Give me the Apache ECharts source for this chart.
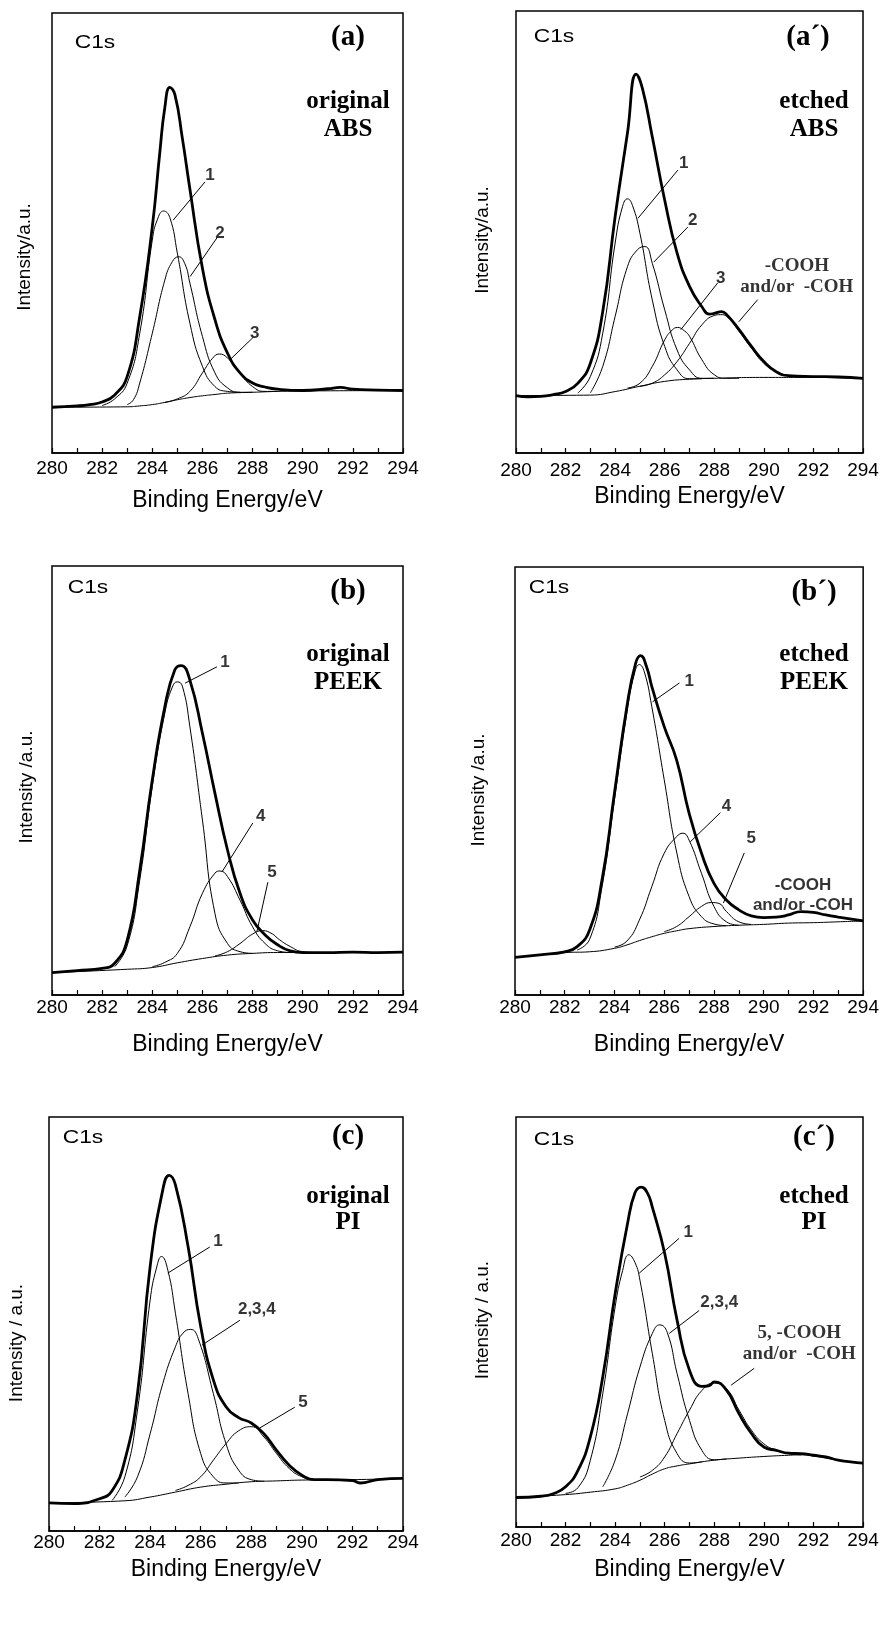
<!DOCTYPE html>
<html>
<head>
<meta charset="utf-8">
<title>C1s XPS spectra - ABS / PEEK / PI</title>
<script src="https://cdn.jsdelivr.net/npm/echarts@6/dist/echarts.min.js"></script>
<style>
    html, body { margin: 0; padding: 0; background: #fff; }
    #main { width: 882px; height: 1628px; }
</style>
</head>
<body>
<div id="main"></div>
<script>
    // ---- data, [binding energy eV, intensity (0-100 of plot height)] ----
    // (a) original ABS
    const aEnvelope = [[280,10.4],[281,10.7],[281.5,11.0],[282,11.6],[282.5,13.2],[283,17.4],[283.5,31.0],[284,51.4],[284.3,68.3],[284.5,78.5],[284.7,83.1],[284.9,81.5],[285.2,71.5],[285.5,60.0],[286,42.0],[286.5,30.3],[287,22.7],[287.5,18.2],[288,15.9],[288.5,15.0],[289,14.5],[290,14.2],[291,14.6],[291.5,14.9],[292,14.5],[293,14.3],[294,14.2]];
    const aBackground = [[280,10.4],[283,10.5],[283.5,10.7],[284,11.0],[284.5,11.5],[285,12.1],[285.5,12.6],[286,13.0],[286.5,13.3],[287,13.6],[288,13.8],[289,14.0],[290,14.1],[294,14.2]];
    const aPeak1 = [[282,10.8],[282.5,12.3],[283,15.9],[283.5,27.2],[284,48.4],[284.2,53.0],[284.45,55.0],[284.7,53.5],[285,45.4],[285.5,29.5],[286,19.7],[286.5,15.1],[287,14.0],[287.5,13.8]];
    const aPeak2 = [[283,11.0],[283.25,12.1],[283.5,15.9],[284,27.2],[284.5,39.3],[284.8,43.5],[285.05,44.6],[285.3,43.0],[285.5,38.6],[286,26.5],[286.5,18.2],[287,14.8],[287.5,13.8],[288,13.8]];
    const aPeak3 = [[284.5,11.5],[285,12.3],[285.5,14.0],[286,18.2],[286.4,21.5],[286.67,22.5],[287,21.6],[287.5,18.2],[288,15.1],[288.5,14.0],[289,14.0]];
    const aNotes = [['1',286.30,63.2],['2',286.70,50.0],['3',288.09,27.3]];
    const aLeaders = [[[284.83,52.9],[286.10,61.6]],[[285.51,40.1],[286.58,48.9]],[[287.10,21.2],[288.01,26.2]]];

    // (a') etched ABS
    const apEnvelope = [[280,13.0],[280.5,12.7],[281,12.8],[281.5,13.2],[282,13.9],[282.5,15.8],[283,20.3],[283.5,32.0],[284,53.5],[284.5,72.5],[284.85,85.7],[285.1,82.5],[285.5,71.5],[286,57.2],[286.5,45.2],[287,37.7],[287.5,33.1],[287.8,31.4],[288,31.6],[288.3,32.0],[288.5,31.3],[289,27.9],[289.5,24.1],[290,20.7],[290.5,18.4],[291,17.5],[292,17.3],[293,17.2],[294,16.9]];
    const apBackground = [[280,13.0],[283,13.1],[284,13.9],[285,15.1],[286,16.2],[287,16.7],[288,16.9],[290,17.1],[292,17.1],[294,16.9]];
    const apPeak1 = [[282.5,13.6],[283,17.3],[283.5,27.1],[284,47.5],[284.3,55.8],[284.5,57.5],[284.7,56.0],[285,49.7],[285.5,34.6],[286,24.1],[286.5,18.8],[287,16.8],[287.5,16.8]];
    const apPeak2 = [[283,13.6],[283.5,19.6],[284,30.9],[284.5,42.2],[284.9,46.0],[285.2,46.7],[285.5,42.9],[286,32.4],[286.5,23.3],[287,18.8],[287.5,16.9],[288,16.9]];
    const apPeak3 = [[284.5,14.7],[285,15.8],[285.5,19.6],[286,25.6],[286.3,27.8],[286.52,28.4],[286.8,27.6],[287,26.4],[287.5,21.1],[288,17.7],[288.5,16.9],[289,16.9]];
    const apCooh = [[285,15.1],[285.5,15.8],[286,17.7],[286.5,20.7],[287,24.8],[287.5,29.0],[288,31.1],[288.25,31.3],[288.5,30.9],[289,27.5],[289.5,23.7],[290,20.3],[290.5,18.4],[291,17.5],[291.5,17.2]];
    const apNotes = [['1',286.77,65.6],['2',287.13,52.7],['3',288.26,39.6]];
    const apGroup = ['-COOH\nand/or  -COH',291.33,40.0];
    const apLeaders = [[[284.92,53.1],[286.53,64.0]],[[285.56,43.2],[286.93,51.1]],[[286.65,27.9],[288.14,38.5]],[[288.99,29.7],[289.75,34.7]]];

    // (b) original PEEK
    const bEnvelope = [[280,5.2],[281,5.7],[282,6.2],[282.5,7.4],[283,12.8],[283.5,29.1],[284,50.1],[284.5,67.2],[284.9,75.8],[285.15,76.8],[285.5,73.4],[286,61.0],[286.5,47.0],[287,33.8],[287.5,23.7],[288,17.5],[288.5,14.0],[289,11.7],[289.5,10.3],[290,9.9],[291,9.9],[292,10.0],[293,9.9],[294,10.0]];
    const bBackground = [[280,5.2],[283,6.0],[284,6.4],[285,7.5],[286,8.5],[287,9.3],[288,9.7],[289,9.9],[294,9.9]];
    const bPeak1 = [[282.5,6.6],[283,11.5],[283.5,26.8],[284,48.6],[284.5,65.7],[284.8,71.8],[285,73.0],[285.2,72.0],[285.5,62.5],[286,40.8],[286.5,19.0],[287,12.0],[287.5,10.1],[288,9.7]];
    const bPeak4 = [[284,6.6],[284.5,7.6],[285,9.7],[285.5,15.9],[286,23.7],[286.5,28.4],[286.7,28.9],[287,27.6],[287.5,22.1],[288,15.9],[288.5,12.0],[289,10.3],[289.5,9.9]];
    const bPeak5 = [[286.5,9.1],[287,10.1],[287.5,12.0],[288,14.2],[288.4,15.0],[288.8,14.2],[289,13.2],[289.5,11.3],[290,10.1],[290.5,9.9]];
    const bNotes = [['1',286.90,77.6],['4',288.33,41.7],['5',288.77,28.7]];
    const bLeaders = [[[285.31,72.7],[286.58,76.5]],[[286.78,28.7],[288.01,40.1]],[[288.17,14.7],[288.61,26.3]]];

    // (b') etched PEEK
    const bpEnvelope = [[280,8.8],[281,9.4],[282,10.1],[282.5,11.3],[283,15.2],[283.5,26.9],[284,47.2],[284.5,67.4],[284.85,77.5],[285.05,79.3],[285.3,76.5],[285.5,72.1],[286,62.7],[286.5,54.9],[287,42.5],[287.5,33.1],[288,26.1],[288.5,22.2],[289,19.9],[289.5,18.5],[290,18.1],[290.5,18.2],[291,18.7],[291.5,19.5],[292,19.3],[292.5,18.7],[293,18.2],[294,17.3]];
    const bpBackground = [[280,8.8],[282,9.9],[283,10.1],[284,10.9],[284.5,11.7],[285,12.7],[285.5,13.6],[286,14.4],[286.5,15.0],[287,15.5],[288,16.0],[289,16.3],[290,16.5],[291,16.8],[292,16.9],[293,17.1],[294,17.3]];
    const bpPeak1 = [[282.5,10.5],[283,13.0],[283.5,25.3],[284,45.6],[284.5,65.9],[284.8,75.0],[285,77.2],[285.2,75.5],[285.5,67.4],[286,50.3],[286.5,33.4],[287,23.0],[287.5,18.3],[288,16.6],[288.5,16.2]];
    const bpPeak4 = [[284,11.2],[284.5,12.6],[285,17.5],[285.5,25.3],[286,33.1],[286.5,37.0],[286.75,37.8],[287,36.2],[287.5,28.4],[288,20.7],[288.5,17.1],[289,16.3]];
    const bpPeak5 = [[286,14.8],[286.5,16.0],[287,18.3],[287.5,20.7],[287.9,21.6],[288.2,21.4],[288.5,19.5],[289,17.1],[289.5,16.5]];
    const bpNotes = [['1',287.01,73.2],['4',288.50,44.2],['5',289.50,36.7]];
    const bpGroup = ['-COOH\nand/or -COH',291.58,23.4];
    const bpLeaders = [[[285.53,68.5],[286.61,72.9]],[[287.05,35.8],[288.26,42.6]],[[288.38,21.5],[289.22,33.2]]];

    // (c) original PI
    const cEnvelope = [[280,6.8],[281,6.6],[282,7.8],[282.5,9.8],[283,17.1],[283.5,33.2],[284,63.9],[284.5,82.4],[284.75,85.9],[285,83.6],[285.5,68.7],[286,49.4],[286.5,36.5],[287,30.0],[287.5,27.4],[288,26.1],[288.5,23.5],[289,19.5],[289.5,15.9],[290,13.5],[290.5,12.4],[291,12.4],[292,12.2],[292.3,11.6],[293,12.4],[294,12.7]];
    const cBackground = [[280,6.8],[283,7.3],[284,8.2],[285,9.4],[286,10.6],[287,11.3],[288,11.9],[289,12.1],[290,12.3],[292,12.4],[294,12.7]];
    const cPeak1 = [[282.5,7.4],[283,13.1],[283.5,29.2],[284,55.8],[284.25,63.5],[284.45,66.3],[284.7,63.0],[285,52.6],[285.5,33.2],[286,18.7],[286.5,13.1],[287,11.6],[287.5,11.6]];
    const cPeak234 = [[283,8.2],[283.5,13.1],[284,23.5],[284.5,35.6],[285,44.5],[285.3,47.8],[285.6,48.7],[285.9,46.5],[286.5,33.2],[287,21.1],[287.5,14.7],[288,12.4],[288.5,12.0]];
    const cPeak5 = [[285,9.8],[285.5,11.0],[286,13.1],[286.5,17.1],[287,21.1],[287.5,24.2],[288,25.2],[288.5,22.7],[289,18.7],[289.5,15.1],[290,13.1],[290.5,12.3],[291,12.3]];
    const cNotes = [['1',286.68,69.9],['2,3,4',288.22,53.6],['5',290.04,31.1]];
    const cLeaders = [[[284.70,62.3],[286.36,68.6]],[[286.05,44.9],[287.55,50.9]],[[288.34,24.9],[289.72,29.9]]];

    // (c') etched PI
    const cpEnvelope = [[280,7.2],[281,7.5],[281.5,8.1],[282,9.8],[282.5,13.8],[283,22.0],[283.5,36.6],[284,56.9],[284.5,74.0],[284.8,81.5],[285.05,82.9],[285.3,81.5],[285.5,78.0],[286,66.7],[286.5,50.4],[287,38.2],[287.5,34.3],[287.8,34.5],[288,35.4],[288.5,33.3],[289,27.6],[289.5,22.8],[290,19.5],[290.5,18.7],[291,18.0],[291.5,17.9],[292,17.5],[292.5,17.1],[293,16.3],[293.5,15.9],[294,15.6]];
    const cpBackground = [[280,7.2],[282,7.9],[283,8.5],[284,9.3],[284.5,10.2],[285,11.4],[285.5,12.9],[286,14.2],[286.5,14.9],[287,15.4],[288,16.3],[289,16.8],[290,17.2],[291,17.5],[291.5,17.6],[292,17.3],[293,16.3],[294,15.6]];
    const cpPeak1 = [[282,8.2],[282.5,9.6],[283,16.3],[283.5,32.5],[284,53.7],[284.3,62.5],[284.55,66.4],[284.8,64.5],[285,60.2],[285.5,42.3],[286,26.0],[286.5,17.9],[287,15.6],[287.5,15.9]];
    const cpPeak234 = [[283.5,9.8],[284,16.3],[284.5,27.6],[285,39.0],[285.5,47.2],[285.8,49.3],[286.1,47.5],[286.5,37.4],[287,26.0],[287.5,18.7],[288,16.4],[288.5,16.6]];
    const cpCooh = [[285,12.2],[285.5,13.8],[286,17.1],[286.5,22.8],[287,28.5],[287.5,33.3],[288,35.1],[288.5,33.7],[289,28.5],[289.5,23.6],[290,20.3],[290.5,18.7],[291,17.9],[291.5,17.6]];
    const cpNotes = [['1',286.95,71.9],['2,3,4',288.20,54.8]];
    const cpGroup = ['5, -COOH\nand/or  -COH',291.43,44.8];
    const cpLeaders = [[[284.97,61.9],[286.58,70.4]],[[286.18,47.2],[287.39,52.8]],[[288.68,34.6],[289.61,38.7]]];

    // ---- texts ----
    const panelTags = ['(a)', '(a\u00b4)', '(b)', '(b\u00b4)', '(c)', '(c\u00b4)'];
    const panelStates = ['original', 'etched', 'original', 'etched', 'original', 'etched'];
    const panelSamples = ['ABS', 'ABS', 'PEEK', 'PEEK', 'PI', 'PI'];
    const yTitles = ['Intensity/a.u.', 'Intensity/a.u.', 'Intensity /a.u.', 'Intensity /a.u.', 'Intensity / a.u.', 'Intensity / a.u.'];
    const xTitle = 'Binding Energy/eV';

    const SANS = "'Liberation Sans', Arial, sans-serif";
    const SERIF = "'Liberation Serif', 'Times New Roman', serif";

    // layout of the six frames (pixels)
    const panels = [
        { grid: { left: 52, top: 13, width: 351, height: 440 }, nameGap: 36, labelMargin: 6,
          lines: [aEnvelope, aBackground, aPeak1, aPeak2, aPeak3], notes: aNotes, leaders: aLeaders, group: null, groupFont: SERIF,
          c1s: [95, 43], tag: [348, 38], state: [348, 102], sample: [348, 130], ytitle: [25, 257] },
        { grid: { left: 516, top: 11, width: 347, height: 442 }, nameGap: 32, labelMargin: 8,
          lines: [apEnvelope, apBackground, apPeak1, apPeak2, apPeak3, apCooh], notes: apNotes, leaders: apLeaders, group: apGroup, groupFont: SERIF,
          c1s: [554, 37], tag: [808, 38], state: [814, 102], sample: [814, 130], ytitle: [483, 240] },
        { grid: { left: 52, top: 566, width: 351, height: 429 }, nameGap: 38, labelMargin: 3,
          lines: [bEnvelope, bBackground, bPeak1, bPeak4, bPeak5], notes: bNotes, leaders: bLeaders, group: null, groupFont: SERIF,
          c1s: [88, 588], tag: [348, 592], state: [348, 655], sample: [348, 683], ytitle: [27, 787] },
        { grid: { left: 515, top: 567, width: 349, height: 428 }, nameGap: 38, labelMargin: 3,
          lines: [bpEnvelope, bpBackground, bpPeak1, bpPeak4, bpPeak5], notes: bpNotes, leaders: bpLeaders, group: bpGroup, groupFont: SANS,
          c1s: [549, 588], tag: [814, 593], state: [814, 655], sample: [814, 683], ytitle: [479, 790] },
        { grid: { left: 49, top: 1117, width: 354, height: 414 }, nameGap: 27, labelMargin: 2,
          lines: [cEnvelope, cBackground, cPeak1, cPeak234, cPeak5], notes: cNotes, leaders: cLeaders, group: null, groupFont: SERIF,
          c1s: [83, 1138], tag: [348, 1137], state: [348, 1197], sample: [348, 1223], ytitle: [17, 1343] },
        { grid: { left: 516, top: 1117, width: 347, height: 410 }, nameGap: 31, labelMargin: 4,
          lines: [cpEnvelope, cpBackground, cpPeak1, cpPeak234, cpCooh], notes: cpNotes, leaders: cpLeaders, group: cpGroup, groupFont: SERIF,
          c1s: [554, 1140], tag: [814, 1138], state: [814, 1197], sample: [814, 1223], ytitle: [483, 1320] }
    ];

    const grids = [], xAxes = [], yAxes = [], series = [], graphics = [];

    panels.forEach((p, i) => {
        grids.push(Object.assign({ show: true, borderColor: '#000', borderWidth: 1.5, backgroundColor: 'transparent' }, p.grid));

        xAxes.push({
            gridIndex: i, type: 'value', min: 280, max: 294, interval: 1,
            name: xTitle, nameLocation: 'middle', nameGap: p.nameGap,
            nameTextStyle: { fontFamily: SANS, fontSize: 23, color: '#000' },
            axisLine: { lineStyle: { color: '#000', width: 1.5 } },
            axisTick: { inside: true, length: 5, lineStyle: { color: '#000', width: 1.2 } },
            axisLabel: { fontFamily: SANS, fontSize: 19, color: '#000', margin: p.labelMargin,
                         formatter: v => (v % 2 === 0 ? String(v) : '') },
            splitLine: { show: false }
        });
        yAxes.push({ gridIndex: i, type: 'value', min: 0, max: 100, show: false });

        // envelope first (thick), then background and fitted components
        p.lines.forEach((d, k) => {
            series.push({
                type: 'line', xAxisIndex: i, yAxisIndex: i, data: d,
                smooth: 0.5, symbol: 'none', silent: true,
                lineStyle: { color: '#000', width: k === 0 ? 2.8 : 1 },
                z: k === 0 ? 4 : 3
            });
        });

        p.leaders.forEach(seg => {
            series.push({
                type: 'line', xAxisIndex: i, yAxisIndex: i, data: seg,
                symbol: 'none', silent: true, lineStyle: { color: '#000', width: 1 }, z: 3
            });
        });

        series.push({
            type: 'scatter', xAxisIndex: i, yAxisIndex: i, symbolSize: 1, silent: true,
            itemStyle: { color: 'rgba(0,0,0,0)' },
            data: p.notes.map(n => ({ value: [n[1], n[2]], label: { formatter: n[0] } })),
            label: { show: true, position: 'inside', fontFamily: SANS, fontWeight: 'bold', fontSize: 17, color: '#000' },
            z: 5
        });

        if (p.group) {
            const serif = p.groupFont === SERIF;
            series.push({
                type: 'scatter', xAxisIndex: i, yAxisIndex: i, symbolSize: 1, silent: true,
                itemStyle: { color: 'rgba(0,0,0,0)' },
                data: [{ value: [p.group[1], p.group[2]], label: { formatter: p.group[0] } }],
                label: { show: true, position: 'inside', align: 'center', fontFamily: p.groupFont, fontWeight: 'bold',
                         fontSize: serif ? 19 : 17, lineHeight: serif ? 21 : 20, color: '#000' },
                z: 5
            });
        }

        const txt = (pos, text, font, size, bold, rot, sx) => ({
            type: 'text', x: pos[0], y: pos[1], rotation: rot || 0, scaleX: sx || 1, silent: true, z: 10,
            style: { text: text, fontFamily: font, fontSize: size, fontWeight: bold ? 'bold' : 'normal',
                     fill: '#000', align: 'center', verticalAlign: 'middle' }
        });
        graphics.push(txt(p.c1s, 'C1s', SANS, 19, false, 0, 1.2));
        graphics.push(txt(p.tag, panelTags[i], SERIF, 29, true));
        graphics.push(txt(p.state, panelStates[i], SERIF, 25, true));
        graphics.push(txt(p.sample, panelSamples[i], SERIF, 25, true));
        graphics.push(txt(p.ytitle, yTitles[i], SANS, 19, false, Math.PI / 2));
    });

    const chart = echarts.init(document.getElementById('main'));
    chart.setOption({
        backgroundColor: '#fff',
        animation: false,
        grid: grids,
        xAxis: xAxes,
        yAxis: yAxes,
        series: series,
        graphic: graphics
    });
</script>
</body>
</html>
